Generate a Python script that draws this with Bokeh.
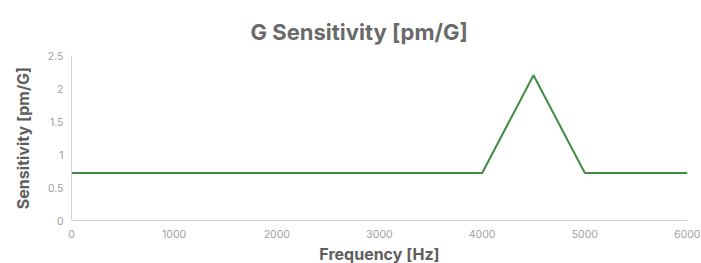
from bokeh.plotting import figure
from bokeh.models import Range1d, Title
from bokeh.embed import file_html
from bokeh.resources import INLINE

freq = [0, 4000, 4500, 5000, 6000]
sens = [0.72, 0.72, 2.2, 0.72, 0.72]
x_ticks = [0, 1000, 2000, 3000, 4000, 5000, 6000]
y_ticks = [0, 0.5, 1, 1.5, 2, 2.5]
y_labels = ["0", "0.5", "1", "1.5", "2", "2.5"]

FONT = "Inter"

p = figure(frame_width=616, frame_height=165, output_backend="svg", toolbar_location=None,
           x_range=Range1d(0, 6000), y_range=Range1d(0, 2.5),
           min_border_left=71, min_border_right=13, min_border_top=55, min_border_bottom=10)
t = Title(text="G Sensitivity [pm/G]", align="left", vertical_align="top", text_font=FONT,
          text_font_size="22px", text_font_style="bold", text_color="#6a6a6a",
          offset=179, standoff=18, text_line_height=1.0)
p.add_layout(t, "above")

p.line(freq, sens, line_color="#3f8d42", line_width=2)

p.grid.visible = False
p.outline_line_color = None
for ax in (p.xaxis[0], p.yaxis[0]):
    ax.axis_line_color = "#d8d2ce"
    ax.major_tick_line_color = None
    ax.minor_tick_line_color = None
    ax.major_tick_out = 0
    ax.major_tick_in = 0
    ax.minor_tick_out = 0
    ax.minor_tick_in = 0
    ax.major_label_text_font = FONT
    ax.major_label_text_font_size = "10.5px"
    ax.major_label_text_color = "#a0a0a0"
    ax.axis_label_text_font = FONT
    ax.axis_label_text_font_size = "16px"
    ax.axis_label_text_font_style = "bold"
    ax.axis_label_text_color = "#5e5e5e"
    ax.axis_label_text_line_height = 1.0

p.xaxis.ticker = x_ticks
p.yaxis.ticker = y_ticks
p.yaxis.major_label_overrides = {v: l for v, l in zip(y_ticks, y_labels)}
p.xaxis.axis_label = "Frequency [Hz]"
p.yaxis.axis_label = "Sensitivity [pm/G]"
p.xaxis.major_label_standoff = 9
p.yaxis.major_label_standoff = 8
p.xaxis.axis_label_standoff = 3
p.yaxis.axis_label_standoff = 12

open("out.html", "w").write(file_html(p, INLINE))
